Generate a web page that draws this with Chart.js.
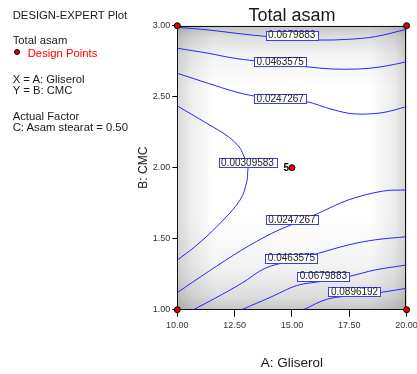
<!DOCTYPE html>
<html>
<head>
<meta charset="utf-8">
<script src="https://cdn.jsdelivr.net/npm/chart.js@4.4.1/dist/chart.umd.min.js"></script>
<style>
  html, body { margin:0; padding:0; background:#fff; }
  #wrap { position:relative; width:417px; height:374px; overflow:hidden; }
  canvas { position:absolute; left:0; top:0; }
  .note { position:absolute; left:12.7px; font-family:"Liberation Sans", Arial, sans-serif; font-size:11.3px; line-height:13px; color:#1a1a1a; white-space:nowrap; }
  .red { color:#ff0000; }
  .dot { position:absolute; left:14.2px; top:48.5px; width:4px; height:4px; border-radius:50%; background:#e00000; border:1px solid #000; }
</style>
</head>
<body>
<div id="wrap">
  <canvas id="c" width="417" height="374"></canvas>
  <div class="note" style="top:8.5px">DESIGN-EXPERT Plot</div>
  <div class="note" style="top:33.5px">Total asam</div>
  <div class="dot"></div>
  <div class="note red" style="top:46.8px;left:27.7px">Design Points</div>
  <div class="note" style="top:72.5px">X = A: Gliserol</div>
  <div class="note" style="top:84.2px">Y = B: CMC</div>
  <div class="note" style="top:110.2px">Actual Factor</div>
  <div class="note" style="top:121.2px">C: Asam stearat = 0.50</div>
</div>
<script>
// ---- data ----
const xTicks = [10, 12.5, 15, 17.5, 20];
const yTicks = [1, 1.5, 2, 2.5, 3];

const c0679Top_x = [10, 11.35, 12.81, 13.83, 15.0, 16.15, 17.46, 18.63, 20];
const c0679Top_y = [2.989, 2.97, 2.942, 2.925, 2.911, 2.899, 2.904, 2.923, 2.975];

const c0464Top_x = [10, 11.35, 12.52, 14.1, 15.65, 16.74, 17.9, 18.92, 20];
const c0464Top_y = [2.841, 2.806, 2.770, 2.74, 2.711, 2.695, 2.695, 2.711, 2.746];

const c0247Top_x = [10, 11.35, 12.52, 13.35, 14.5, 15.65, 16.74, 17.7, 18.92, 20];
const c0247Top_y = [2.665, 2.594, 2.535, 2.505, 2.487, 2.465, 2.411, 2.379, 2.387, 2.430];

const c0031_x = [10, 11.28, 12.23, 12.74, 12.91, 13.08, 13.07, 13.03, 12.74, 11.79, 10.77, 10];
const c0031_y = [2.435, 2.313, 2.218, 2.137, 2.077, 2.03, 1.972, 1.901, 1.773, 1.596, 1.444, 1.35];

const c0247Low_x = [10, 11.35, 12.81, 14.12, 15.0, 16.15, 17.46, 18.99, 20];
const c0247Low_y = [1.120, 1.268, 1.420, 1.538, 1.60, 1.679, 1.773, 1.836, 1.843];

const c0464Low_x = [10.70, 11.64, 12.81, 13.83, 15.0, 16.15, 17.46, 18.63, 20];
const c0464Low_y = [1.0, 1.080, 1.186, 1.292, 1.345, 1.397, 1.456, 1.492, 1.514];

const c0680Low_x = [12.81, 14.12, 15.21, 16.3, 17.5, 18.63, 20];
const c0680Low_y = [1.0, 1.092, 1.170, 1.20, 1.235, 1.28, 1.315];

const c0896_x = [15.50, 16.55, 17.7, 18.92, 20];
const c0896_y = [1.0, 1.075, 1.10, 1.123, 1.151];

const labelText = ['0.0679883','0.0463575','0.0247267','0.00309583','0.0247267','0.0463575','0.0679883','0.0896192'];
const labelX = [14.99, 14.49, 14.49, 13.06, 15.0, 14.98, 16.37, 17.73];
const labelY = [2.933, 2.748, 2.489, 2.034, 1.632, 1.364, 1.237, 1.127];

const designX = [10, 20, 10, 20, 15];
const designY = [3, 3, 1, 1, 2];
const designCount = [1, 1, 1, 1, 5];

// ---- build ----
const FONT = '"Liberation Sans", Arial, sans-serif';
const pts = (xs, ys) => xs.map((x, i) => ({x, y: ys[i]}));
const contours = [
  [c0679Top_x, c0679Top_y], [c0464Top_x, c0464Top_y], [c0247Top_x, c0247Top_y],
  [c0031_x, c0031_y], [c0247Low_x, c0247Low_y], [c0464Low_x, c0464Low_y],
  [c0680Low_x, c0680Low_y], [c0896_x, c0896_y]
];
const LINE = '#2626ff';

const datasets = [{
  type: 'scatter',
  data: pts(designX, designY),
  pointRadius: 3, pointBackgroundColor: '#e00000', pointBorderColor: '#000', pointBorderWidth: 1,
  clip: false
}].concat(contours.map(c => ({
  type: 'line',
  data: pts(c[0], c[1]),
  borderColor: LINE, borderWidth: 1, pointRadius: 0, tension: 0.35, fill: false
})));

const noPad = s => { s.paddingLeft = 0; s.paddingRight = 0; s.paddingTop = 0; s.paddingBottom = 0; };

const backdrop = {
  id: 'backdrop',
  beforeDatasetsDraw(chart) {
    const {ctx, chartArea: a} = chart;
    ctx.save();
    ctx.fillStyle = '#fff';
    ctx.fillRect(a.left, a.top, a.width, a.height);
    let g = ctx.createLinearGradient(0, a.top, 0, a.bottom);
    g.addColorStop(0, 'rgba(0,0,0,0.24)');
    g.addColorStop(0.04, 'rgba(0,0,0,0.13)');
    g.addColorStop(0.10, 'rgba(0,0,0,0.05)');
    g.addColorStop(0.22, 'rgba(0,0,0,0)');
    g.addColorStop(0.68, 'rgba(0,0,0,0)');
    g.addColorStop(0.85, 'rgba(0,0,0,0.05)');
    g.addColorStop(0.95, 'rgba(0,0,0,0.13)');
    g.addColorStop(1, 'rgba(0,0,0,0.22)');
    ctx.fillStyle = g;
    ctx.fillRect(a.left, a.top, a.width, a.height);
    g = ctx.createLinearGradient(a.left, 0, a.right, 0);
    g.addColorStop(0, 'rgba(0,0,0,0.15)');
    g.addColorStop(0.06, 'rgba(0,0,0,0.07)');
    g.addColorStop(0.16, 'rgba(0,0,0,0)');
    g.addColorStop(0.84, 'rgba(0,0,0,0)');
    g.addColorStop(0.95, 'rgba(0,0,0,0.08)');
    g.addColorStop(1, 'rgba(0,0,0,0.17)');
    ctx.fillStyle = g;
    ctx.fillRect(a.left, a.top, a.width, a.height);
    ctx.strokeStyle = '#111';
    ctx.lineWidth = 1;
    ctx.strokeRect(Math.round(a.left) + 0.5, Math.round(a.top) + 0.5, Math.round(a.width) - 1, Math.round(a.height) - 1);
    ctx.restore();
  },
  afterDatasetsDraw(chart) {
    const {ctx, chartArea: a, scales: {x, y}} = chart;
    ctx.save();
    ctx.font = '10px ' + FONT;
    ctx.textAlign = 'center';
    ctx.textBaseline = 'middle';
    labelText.forEach((t, i) => {
      const px = x.getPixelForValue(labelX[i]);
      const py = y.getPixelForValue(labelY[i]);
      const w = ctx.measureText(t).width + 5;
      const h = 9;
      const l = Math.round(px - w / 2) + 0.5, tp = Math.round(py - h / 2) + 0.5;
      ctx.fillStyle = '#fff';
      ctx.fillRect(l, tp, Math.round(w), h);
      ctx.strokeStyle = '#3b3bff';
      ctx.lineWidth = 1;
      ctx.strokeRect(l, tp, Math.round(w), h);
      ctx.fillStyle = '#222';
      ctx.fillText(t, px, py + 0.5);
    });
    ctx.font = 'bold 10px ' + FONT;
    ctx.textAlign = 'right';
    ctx.fillStyle = '#000';
    designX.forEach((dx, i) => {
      if (designCount[i] > 1) {
        ctx.fillText(String(designCount[i]), x.getPixelForValue(dx) - 3, y.getPixelForValue(designY[i]) + 0.5);
      }
    });
    // title
    ctx.font = '18px ' + FONT;
    ctx.textAlign = 'center';
    ctx.fillStyle = '#1a1a1a';
    ctx.fillText('Total asam', (a.left + a.right) / 2, 16);
    ctx.restore();
  }
};

new Chart(document.getElementById('c'), {
  data: { datasets },
  options: {
    responsive: false,
    animation: false,
    devicePixelRatio: 1,
    layout: { padding: { left: 136, right: 10.4, top: 25.7, bottom: 3 } },
    plugins: { legend: { display: false }, tooltip: { enabled: false } },
    scales: {
      x: {
        type: 'linear', min: 10, max: 20,
        afterBuildTicks: s => { s.ticks = xTicks.map(v => ({value: v})); },
        ticks: { callback: v => Number(v).toFixed(2), font: { family: FONT, size: 9 }, color: '#333', padding: 3, maxRotation: 0, autoSkip: false },
        grid: { drawOnChartArea: false, tickLength: 7, color: '#000', tickColor: '#000' },
        border: { display: true, color: '#000' },
        title: { display: true, text: 'A: Gliserol', font: { family: FONT, size: 13.5 }, color: '#1a1a1a', padding: 0 },
        afterFit: s => { s.height = 61.3; noPad(s); }
      },
      y: {
        type: 'linear', min: 1, max: 3,
        afterBuildTicks: s => { s.ticks = yTicks.map(v => ({value: v})); },
        ticks: { callback: v => Number(v).toFixed(2), font: { family: FONT, size: 9 }, color: '#333', padding: 2, autoSkip: false },
        grid: { drawOnChartArea: false, tickLength: 5, color: '#000', tickColor: '#000' },
        border: { display: true, color: '#000' },
        title: { display: true, text: 'B: CMC', font: { family: FONT, size: 12 }, color: '#1a1a1a', padding: 0 },
        afterFit: s => { s.width = 41.3; noPad(s); }
      }
    }
  },
  plugins: [backdrop]
});
</script>
</body>
</html>
